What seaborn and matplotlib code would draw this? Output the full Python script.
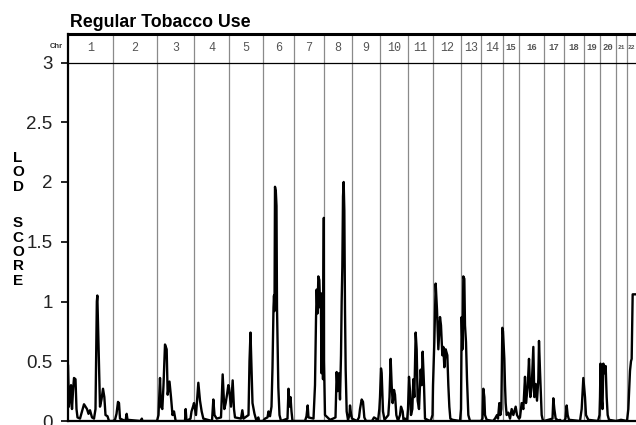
import numpy as np
import pandas as pd
import matplotlib
matplotlib.use("Agg")
import matplotlib.pyplot as plt
import seaborn as sns

# --- Data: genome scan, (cM within chromosome, LOD) ---
chr_names = [str(i) for i in range(1, 23)]
chr_lengths = [270, 264, 222, 210, 204, 186, 180, 168, 168, 168, 150,
               168, 120, 132, 96, 150, 120, 120, 96, 96, 66, 54]

chr1_scan = [(0, 0.47), (6, 0.12), (18, 0.30), (24, 0.10), (30, 0.25), (36, 0.36),
             (45, 0.35), (51, 0.10), (57, 0.03), (72, 0.02), (84, 0.08), (96, 0.14),
             (105, 0.12), (114, 0.10), (123, 0.06), (132, 0.09), (144, 0.03), (156, 0.02),
             (165, 0.10), (169, 0.55), (173, 1.00), (176, 1.05), (179, 0.88), (183, 0.62),
             (188, 0.40), (192, 0.12), (201, 0.18), (210, 0.27), (218, 0.20), (225, 0.05),
             (237, 0.04), (246, 0.0), (270, 0.0)]
chr2_scan = [(0, 0.0), (12, 0.01), (21, 0.06), (30, 0.16), (36, 0.15), (42, 0.02),
             (75, 0.0), (82, 0.06), (87, 0.01), (165, 0.0), (173, 0.02), (177, 0.0), (264, 0.0)]
chr3_scan = [(0, 0.0), (9, 0.05), (18, 0.36), (24, 0.12), (32, 0.10), (39, 0.30),
             (48, 0.64), (58, 0.60), (64, 0.22), (75, 0.33), (84, 0.20), (93, 0.05),
             (102, 0.08), (112, 0.0), (168, 0.0), (172, 0.10), (177, 0.0), (201, 0.02),
             (207, 0.08), (216, 0.12), (222, 0.15)]
chr4_scan = [(0, 0.15), (12, 0.05), (26, 0.32), (36, 0.17), (46, 0.08), (56, 0.02),
             (108, 0.0), (116, 0.18), (123, 0.05), (136, 0.02), (162, 0.03), (172, 0.39),
             (182, 0.10), (190, 0.15), (198, 0.22), (206, 0.30), (210, 0.28)]
chr5_scan = [(0, 0.28), (12, 0.12), (22, 0.34), (30, 0.10), (36, 0.03), (72, 0.02),
             (80, 0.09), (87, 0.02), (117, 0.05), (123, 0.50), (129, 0.74), (135, 0.45),
             (141, 0.15), (153, 0.06), (165, 0.0), (176, 0.03), (180, 0.0), (204, 0.0)]
chr6_scan = [(0, 0.0), (12, 0.02), (27, 0.03), (33, 0.08), (42, 0.04), (51, 0.12),
             (57, 0.45), (63, 0.95), (66, 1.05), (69, 0.92), (72, 1.96), (77, 1.92),
             (81, 1.80), (84, 0.95), (88, 0.60), (92, 0.28), (99, 0.05), (108, 0.0),
             (147, 0.02), (153, 0.27), (159, 0.12), (165, 0.20), (171, 0.08), (177, 0.0),
             (186, 0.0)]
chr7_scan = [(0, 0.0), (66, 0.0), (75, 0.04), (82, 0.13), (87, 0.03), (117, 0.02),
             (126, 0.30), (132, 0.85), (136, 1.10), (141, 0.90), (146, 1.21), (152, 1.18),
             (157, 0.95), (161, 1.07), (165, 0.40), (170, 0.85), (174, 0.35), (179, 1.70),
             (180, 0.60)]
chr8_scan = [(0, 0.50), (6, 0.05), (36, 0.01), (54, 0.02), (69, 0.03), (76, 0.41),
             (82, 0.25), (90, 0.40), (96, 0.18), (102, 0.55), (106, 1.00), (110, 1.29),
             (114, 1.88), (118, 2.00), (122, 1.76), (126, 0.93), (130, 0.43), (136, 0.08),
             (144, 0.01), (153, 0.05), (156, 0.13), (162, 0.06), (168, 0.02)]
chr9_scan = [(0, 0.02), (30, 0.0), (42, 0.03), (48, 0.10), (58, 0.18), (66, 0.16),
             (74, 0.03), (84, 0.0), (120, 0.0), (132, 0.03), (144, 0.02), (156, 0.0),
             (164, 0.10), (168, 0.20)]
chr10_scan = [(0, 0.20), (6, 0.44), (10, 0.40), (18, 0.08), (27, 0.01), (50, 0.05),
              (57, 0.20), (64, 0.52), (70, 0.30), (76, 0.15), (84, 0.26), (90, 0.22),
              (98, 0.05), (108, 0.0), (120, 0.05), (126, 0.12), (136, 0.08), (141, 0.01),
              (150, 0.02), (162, 0.0), (168, 0.10)]
chr11_scan = [(0, 0.10), (6, 0.37), (12, 0.25), (18, 0.05), (26, 0.10), (32, 0.35),
              (38, 0.20), (46, 0.74), (52, 0.60), (58, 0.17), (66, 0.10), (76, 0.43),
              (82, 0.30), (88, 0.58), (96, 0.30), (102, 0.02), (132, 0.0), (138, 0.01),
              (147, 0.05), (150, 0.30)]
chr12_scan = [(0, 0.30), (8, 0.66), (16, 1.15), (24, 0.93), (32, 0.60), (42, 0.87),
              (48, 0.80), (56, 0.55), (62, 0.62), (68, 0.45), (76, 0.60), (86, 0.55),
              (92, 0.30), (98, 0.12), (104, 0.02), (117, 0.01), (162, 0.0), (168, 0.10)]
chr13_scan = [(0, 0.10), (4, 0.87), (9, 0.60), (14, 1.21), (20, 1.19), (24, 0.80),
              (30, 0.66), (36, 0.35), (44, 0.05), (54, 0.0), (120, 0.0)]
chr14_scan = [(0, 0.0), (9, 0.02), (14, 0.27), (20, 0.20), (24, 0.05), (34, 0.01),
              (72, 0.0), (84, 0.02), (96, 0.05), (102, 0.02), (110, 0.15), (116, 0.05),
              (122, 0.10), (128, 0.78), (132, 0.75)]
chr15_scan = [(0, 0.75), (8, 0.52), (12, 0.30), (16, 0.15), (22, 0.05), (32, 0.07),
              (42, 0.02), (52, 0.10), (62, 0.05), (76, 0.12), (84, 0.05), (96, 0.02)]
chr16_scan = [(0, 0.02), (6, 0.03), (16, 0.15), (26, 0.10), (36, 0.37), (42, 0.15),
              (52, 0.28), (60, 0.52), (68, 0.20), (76, 0.28), (86, 0.62), (92, 0.20),
              (100, 0.31), (108, 0.17), (116, 0.35), (120, 0.67), (126, 0.42), (132, 0.20),
              (136, 0.05), (144, 0.0), (150, 0.0)]
chr17_scan = [(0, 0.0), (51, 0.02), (56, 0.19), (62, 0.10), (70, 0.02), (90, 0.0),
              (96, 0.01), (102, 0.0), (120, 0.0)]
chr18_scan = [(0, 0.0), (9, 0.02), (16, 0.13), (22, 0.05), (30, 0.01), (96, 0.0),
              (106, 0.10), (116, 0.36), (120, 0.30)]
chr19_scan = [(0, 0.30), (6, 0.20), (12, 0.05), (26, 0.01), (84, 0.0), (93, 0.05), (96, 0.20)]
chr20_scan = [(0, 0.20), (3, 0.48), (9, 0.20), (15, 0.10), (20, 0.48), (26, 0.40),
              (34, 0.46), (40, 0.20), (46, 0.05), (54, 0.01), (96, 0.0)]
chr21_scan = [(0, 0.0), (30, 0.01), (66, 0.0)]
chr22_scan = [(0, 0.0), (8, 0.10), (18, 0.42), (24, 0.50), (28, 0.52), (34, 1.06), (54, 1.06)]

y_ticks = [0, 0.5, 1, 1.5, 2, 2.5, 3]
y_tick_labels = ["0", "0.5", "1", "1.5", "2", "2.5", "3"]

scans = [chr1_scan, chr2_scan, chr3_scan, chr4_scan, chr5_scan, chr6_scan, chr7_scan,
         chr8_scan, chr9_scan, chr10_scan, chr11_scan, chr12_scan, chr13_scan, chr14_scan,
         chr15_scan, chr16_scan, chr17_scan, chr18_scan, chr19_scan, chr20_scan,
         chr21_scan, chr22_scan]

# build a genome-wide table
starts = np.concatenate([[0], np.cumsum(chr_lengths)[:-1]])
total = float(np.sum(chr_lengths))
rows = []
for name, start, scan in zip(chr_names, starts, scans):
    for cm, lod in scan:
        rows.append({"chr": name, "gpos": start + cm, "lod": lod})
df = pd.DataFrame(rows)

# --- Plot ---
sns.set_style("white")
plt.rcParams["font.family"] = ["Liberation Sans", "DejaVu Sans"]

fig = plt.figure(figsize=(6.36, 4.25), dpi=100)
ax = fig.add_axes([68 / 636, 4 / 425, 568 / 636, 387 / 425])
ytop = 3 + 28.5 / 119.5

sns.lineplot(data=df, x="gpos", y="lod", sort=False, estimator=None,
             color="black", linewidth=1.7, ax=ax, legend=False)

for b in np.cumsum(chr_lengths)[:-1]:
    ax.axvline(b, color="#8a8a8a", linewidth=0.9, zorder=0)
ax.axhline(3, color="black", linewidth=0.9)

ax.set_xlim(0, total)
ax.set_ylim(0, ytop)
ax.set_xticks([])
ax.set_yticks(y_ticks)
ax.set_yticklabels(y_tick_labels, fontsize=13.5, color="#222222")
ax.tick_params(axis="y", direction="out", length=5, width=1.2, pad=6, color="black", left=True)
ax.set_xlabel("")
ax.set_ylabel("")

for side in ["left", "top", "bottom"]:
    ax.spines[side].set_visible(True)
    ax.spines[side].set_color("black")
ax.spines["left"].set_linewidth(1.6)
ax.spines["top"].set_linewidth(2.2)
ax.spines["bottom"].set_linewidth(1.6)
ax.spines["right"].set_visible(False)

# chromosome numbers in the header band
for name, start, length in zip(chr_names, starts, chr_lengths):
    n = int(name)
    size = 8.5 if n <= 14 else (6.5 if n <= 20 else 4.5)
    weight = "normal" if n <= 14 else "bold"
    ax.text(start + length / 2, 3.125, name, ha="center", va="center",
            fontsize=size, fontweight=weight, color="#555555",
            family=["Liberation Mono", "DejaVu Sans Mono"], clip_on=False)

fig.text(63 / 636, 1 - 47 / 425, "Chr", ha="right", va="center",
         fontsize=5.5, fontweight="bold", color="#333333")

fig.text(70 / 636, 1 - 27.3 / 425, "Regular Tobacco Use", ha="left", va="baseline",
         fontsize=12.8, fontweight="bold", color="black")

# stacked y label
ylab_letters = ["L", "O", "D", "S", "C", "O", "R", "E"]
ylab_y = [158, 172.5, 187, 223, 237.5, 252, 266.5, 281]
for letter, yp in zip(ylab_letters, ylab_y):
    fig.text(18 / 636, 1 - yp / 425, letter, ha="center", va="center",
             fontsize=11, fontweight="bold", color="black")

fig.savefig("out.png", dpi=100)
